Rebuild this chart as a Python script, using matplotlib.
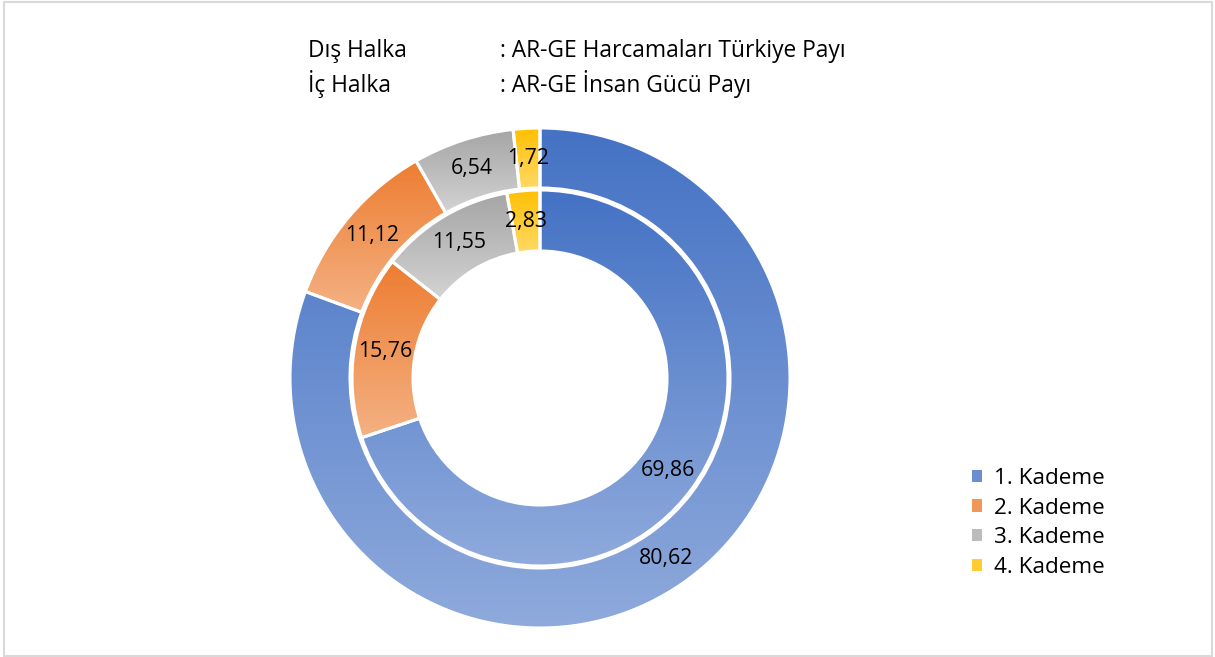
import numpy as np
import matplotlib
matplotlib.use('Agg')
import matplotlib.pyplot as plt
from matplotlib.patches import Patch, Rectangle
from matplotlib.colors import LinearSegmentedColormap

plt.rcParams['font.family'] = ['Open Sans', 'DejaVu Sans']

categories = ['1. Kademe', '2. Kademe', '3. Kademe', '4. Kademe']
outer_vals = [80.62, 11.12, 6.54, 1.72]   # AR-GE Harcamaları Türkiye Payı
inner_vals = [69.86, 15.76, 11.55, 2.83]  # AR-GE İnsan Gücü Payı
outer_labels = ['80,62', '11,12', '6,54', '1,72']
inner_labels = ['69,86', '15,76', '11,55', '2,83']

# gradient (top -> bottom) per kademe
top_colors = ['#4472C4', '#ED7D31', '#A5A5A5', '#FFC000']
bot_colors = ['#8FAADC', '#F4B183', '#D3D3D3', '#FFD966']
mid_colors = ['#6A8ED0', '#F0975A', '#BCBCBC', '#FFCC33']

W, H = 1215, 657
fig = plt.figure(figsize=(W / 100, H / 100), dpi=100)

# donut axes: centre at (540, 378) px, outer radius 250 px
cx, cy, R = 540, 378, 250
ax = fig.add_axes([(cx - R) / W, (H - cy - R) / H, 2 * R / W, 2 * R / H])

r_out, w_out = 1.0, 60 / R
r_in, w_in = 188 / R, 61 / R

wedge_kw = dict(edgecolor='white', linewidth=2.2, facecolor='none')
outer, _ = ax.pie(outer_vals, radius=r_out, startangle=90, counterclock=False,
                  wedgeprops=dict(width=w_out, **wedge_kw))
inner, _ = ax.pie(inner_vals, radius=r_in, startangle=90, counterclock=False,
                  wedgeprops=dict(width=w_in, **wedge_kw))

grad = np.linspace(0, 1, 256).reshape(-1, 1)


def fill_gradient(wedges, labels, r_mid):
    for i, w in enumerate(wedges):
        w.set_facecolor('none')
        w.set_zorder(3)
        w.set_clip_on(False)
        ext = w.get_path().get_extents(w.get_patch_transform())
        cmap = LinearSegmentedColormap.from_list('g', [top_colors[i], bot_colors[i]])
        im = ax.imshow(grad, cmap=cmap, aspect='auto', zorder=1,
                       extent=(ext.x0, ext.x1, ext.y0, ext.y1), origin='upper')
        im.set_clip_path(w)
        ang = np.deg2rad((w.theta1 + w.theta2) / 2)
        ax.text(r_mid * np.cos(ang), r_mid * np.sin(ang), labels[i],
                ha='center', va='center', fontsize=15.3, color='black', zorder=4)


fill_gradient(outer, outer_labels, r_out - w_out / 2)
fill_gradient(inner, inner_labels, r_in - w_in / 2)

ax.set_xlim(-1, 1)
ax.set_ylim(-1, 1)
ax.set_aspect('equal')
ax.axis('off')

# header texts
fig.text(308 / W, 1 - 57 / H, 'Dış Halka', fontsize=16.4, va='baseline')
fig.text(500 / W, 1 - 57 / H, ': AR-GE Harcamaları Türkiye Payı', fontsize=16.4, va='baseline')
fig.text(308 / W, 1 - 92 / H, 'İç Halka', fontsize=16.4, va='baseline')
fig.text(500 / W, 1 - 92 / H, ': AR-GE İnsan Gücü Payı', fontsize=16.4, va='baseline')

handles = [Patch(facecolor=c, edgecolor='none') for c in mid_colors]
fig.legend(handles, categories, loc='upper left', bbox_to_anchor=(972 / W, 1 - 468 / H),
           frameon=False, fontsize=16.2, handlelength=0.45, handleheight=0.45,
           handletextpad=0.55, labelspacing=0.38, borderaxespad=0, borderpad=0)

fig.add_artist(Rectangle((4 / W, 1 / H), (1212 - 4) / W, (655 - 1) / H,
                         transform=fig.transFigure, fill=False,
                         edgecolor='#D9D9D9', linewidth=1.5))

fig.savefig('out.png', dpi=100)
